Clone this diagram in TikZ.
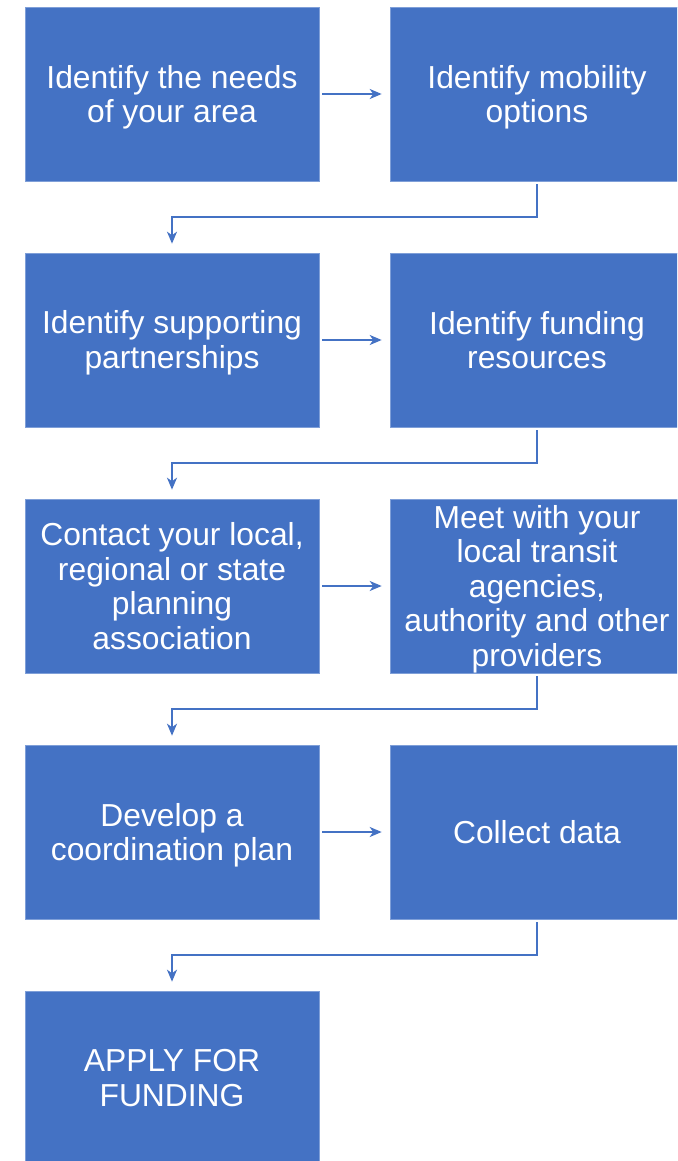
\documentclass[tikz,border=0pt]{standalone}
\usepackage{fontspec}
\setmainfont{Liberation Sans}
\usetikzlibrary{arrows.meta,calc}
\definecolor{boxblue}{HTML}{4472C4}
\definecolor{edgeblue}{HTML}{7F9FD8}
\begin{document}
\begin{tikzpicture}[x=1pt,y=-1pt,
  stepbox/.style={fill=boxblue,draw=edgeblue,line width=0.6pt,minimum width=294pt,minimum height=174pt,inner sep=0pt},
  steptext/.style={text=white,align=center,inner sep=0pt,font=\fontsize{31.8pt}{34.5pt}\selectfont},
  conn/.style={draw=boxblue,line width=1.9pt,-{Stealth[length=12pt,width=10pt,inset=3.5pt]}}]
\useasboundingbox (0,0) rectangle (677,1161);
\begin{scope}
\clip (0,0) rectangle (677,1161);
\node[stepbox] (n1) at (172,94) {};
\node[stepbox] (n2) at (537,94) {};
\node[stepbox] (n3) at (172,340) {};
\node[stepbox] (n4) at (537,340) {};
\node[stepbox] (n5) at (172,586) {};
\node[stepbox] (n6) at (537,586) {};
\node[stepbox] (n7) at (172,832) {};
\node[stepbox] (n8) at (537,832) {};
\node[stepbox] (n9) at (172,1078) {};
\end{scope}
\node[steptext] (t1) at ($(n1.center)+(0,3.5)$) {Identify the needs\\of your area};
\node[steptext] (t2) at ($(n2.center)+(0,3.5)$) {Identify mobility\\options};
\node[steptext] (t3) at ($(n3.center)+(0,3)$) {Identify supporting\\partnerships};
\node[steptext] (t4) at (n4.center) {Identify funding\\resources};
\node[steptext] (t5) at (n5.center) {Contact your local,\\regional or state\\planning\\association};
\node[steptext] (t6) at ($(n6.center)+(0,3)$) {Meet with your\\local transit\\agencies,\\authority and other\\providers};
\node[steptext] (t7) at ($(n7.center)+(0,3.5)$) {Develop a\\coordination plan};
\node[steptext] (t8) at (n8.center) {Collect data};
\node[steptext] (t9) at (n9.center) {APPLY FOR\\FUNDING};
\foreach \a/\b in {n1/n2,n3/n4,n5/n6,n7/n8}{
  \draw[conn,shorten <=3pt,shorten >=8pt] (\a.east) -- (\b.west);
}
\foreach \a/\b in {n2/n3,n4/n5,n6/n7,n8/n9}{
  \draw[conn,shorten <=3pt,shorten >=9pt] (\a.south) -- ++(0,36) -| (\b.north);
}
\end{tikzpicture}
\end{document}
